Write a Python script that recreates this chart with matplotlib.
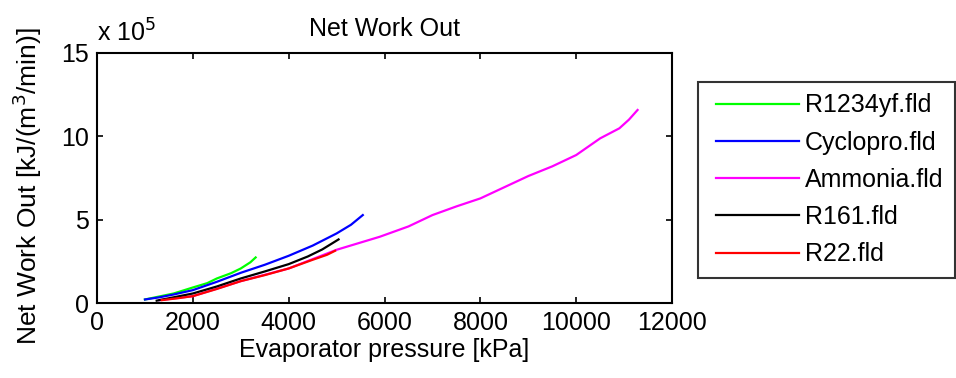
import numpy as np
import matplotlib
matplotlib.use("Agg")
from matplotlib import pyplot as plt
from matplotlib.legend_handler import HandlerLine2D

# values (y in units of 1e5)
x_r1234 = [1000, 1300, 1600, 2000, 2300, 2500, 2800, 3000, 3200, 3310]
y_r1234 = [0.22, 0.40, 0.58, 0.94, 1.20, 1.48, 1.80, 2.08, 2.45, 2.74]

x_cyc = [1000, 1300, 1600, 2000, 2500, 3000, 3500, 4000, 4500, 5000, 5300, 5546]
y_cyc = [0.22, 0.35, 0.52, 0.78, 1.28, 1.82, 2.30, 2.84, 3.45, 4.18, 4.70, 5.28]

x_amm = [1300, 2000, 3000, 4000, 5000, 5900, 6500, 7000, 7500, 8000, 8500,
         9000, 9500, 10000, 10500, 10900, 11100, 11280]
y_amm = [0.18, 0.42, 1.32, 2.08, 3.20, 3.98, 4.60, 5.28, 5.80, 6.28, 6.95,
         7.62, 8.20, 8.88, 9.88, 10.48, 11.00, 11.58]

x_r161 = [1245, 1600, 2000, 2500, 3000, 3500, 4000, 4400, 4700, 5040]
y_r161 = [0.15, 0.35, 0.58, 1.00, 1.48, 1.90, 2.34, 2.80, 3.22, 3.82]

x_r22 = [1350, 1700, 2000, 2500, 3000, 3500, 4000, 4500, 4800, 4968]
y_r22 = [0.18, 0.30, 0.42, 0.85, 1.32, 1.68, 2.08, 2.60, 2.90, 3.14]

labels = ['R1234yf.fld', 'Cyclopro.fld', 'Ammonia.fld', 'R161.fld', 'R22.fld']
colors = ['#00ff00', '#0000ff', '#ff00ff', '#000000', '#ff0000']

plt.rcParams['font.family'] = ['Liberation Sans', 'DejaVu Sans']
FS = 18

fig = plt.figure(figsize=(9.56, 3.78), dpi=100)
ax = fig.add_axes([0.1015, 0.198, 0.6015, 0.662])

series = [(x_r1234, y_r1234), (x_cyc, y_cyc), (x_amm, y_amm),
          (x_r161, y_r161), (x_r22, y_r22)]
lines = []
for (xs, ys), lab, col in zip(series, labels, colors):
    ln, = ax.plot(xs, np.array(ys), color=col, lw=1.6, label=lab)
    lines.append(ln)

ax.set_xlim(0, 12000)
ax.set_ylim(0, 15)
ax.set_xticks(np.arange(0, 12001, 2000))
ax.set_yticks([0, 5, 10, 15])
ax.tick_params(direction='in', top=True, right=True, labelsize=FS, length=4,
               width=1.2, pad=6)
for sp in ax.spines.values():
    sp.set_linewidth(1.5)

ax.set_xlabel('Evaporator pressure [kPa]', fontsize=FS, labelpad=2)
ax.set_ylabel('Net Work Out [kJ/(m$^3$/min)]', fontsize=19)
ax.yaxis.set_label_coords(-0.092, 0.466)
ax.set_title('Net Work Out', fontsize=FS, pad=12)
ax.text(0.0, 1.025, r'x 10$^5$', transform=ax.transAxes, fontsize=FS,
        ha='left', va='bottom')

hmap = {ln: HandlerLine2D(xpad=0.28) for ln in lines}
leg = ax.legend(handler_map=hmap, loc='upper left',
                bbox_to_anchor=(0.7301, 0.783),
                bbox_transform=fig.transFigure, fontsize=FS, frameon=True,
                fancybox=False, edgecolor='black', handlelength=3.58,
                handletextpad=0.25, labelspacing=0.53, borderpad=0.45,
                borderaxespad=0)
leg.get_frame().set_linewidth(1.5)

fig.savefig('out.png', dpi=100)
